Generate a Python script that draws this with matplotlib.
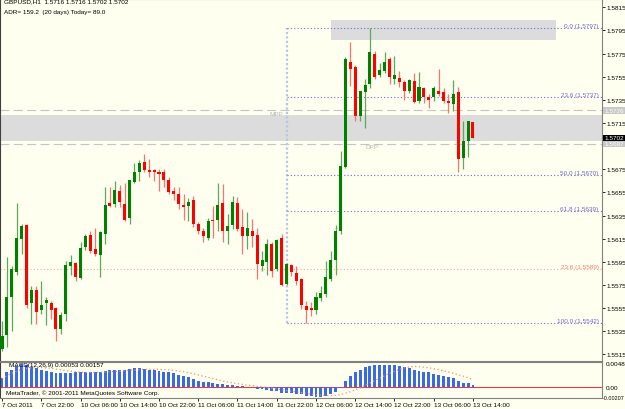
import matplotlib
matplotlib.use('Agg')
import matplotlib.pyplot as plt
import numpy as np

plt.rcParams['font.family'] = ['Liberation Sans', 'DejaVu Sans']

# H1 bars, 7 Oct 2011 14:00 .. 13 Oct 2011 14:00
opens = [1.5520, 1.5532, 1.5565, 1.5586, 1.5615, 1.5627, 1.5559, 1.5571, 1.5553, 1.5559,
         1.5559, 1.5555, 1.5537, 1.5550, 1.5591, 1.5594, 1.5581, 1.5608, 1.5618, 1.5606,
         1.5601, 1.5619, 1.5646, 1.5645, 1.5656, 1.5645, 1.5633, 1.5664, 1.5673, 1.5681,
         1.5674, 1.5674, 1.5673, 1.5673, 1.5666, 1.5656, 1.5654, 1.5644, 1.5643, 1.5648,
         1.5628, 1.5622, 1.5616, 1.5631, 1.5631, 1.5646, 1.5622, 1.5627, 1.5646, 1.5625,
         1.5617, 1.5622, 1.5618, 1.5591, 1.5595, 1.5610, 1.5589, 1.5616, 1.5576, 1.5592,
         1.5585, 1.5580, 1.5557, 1.5555, 1.5553, 1.5564, 1.5567, 1.5580, 1.5597, 1.5622,
         1.5677, 1.5768, 1.5763, 1.5721, 1.5742, 1.5749, 1.5775, 1.5756, 1.5760, 1.5770,
         1.5753, 1.5754, 1.5750, 1.5743, 1.5751, 1.5734, 1.5745, 1.5737, 1.5737, 1.5743,
         1.5742, 1.5734, 1.5731, 1.5742, 1.5685, 1.5699, 1.5716]
highs = [1.5544, 1.5599, 1.5591, 1.5646, 1.5628, 1.5628, 1.5574, 1.5574, 1.5578, 1.5565,
         1.5561, 1.5556, 1.5552, 1.5596, 1.5601, 1.5595, 1.5612, 1.5619, 1.5622, 1.5624,
         1.5622, 1.5660, 1.5660, 1.5665, 1.5661, 1.5663, 1.5666, 1.5680, 1.5683, 1.5688,
         1.5684, 1.5675, 1.5675, 1.5675, 1.5668, 1.5660, 1.5660, 1.5654, 1.5650, 1.5652,
         1.5629, 1.5624, 1.5633, 1.5643, 1.5663, 1.5662, 1.5636, 1.5652, 1.5651, 1.5641,
         1.5638, 1.5632, 1.5624, 1.5604, 1.5615, 1.5612, 1.5615, 1.5619, 1.5594, 1.5593,
         1.5591, 1.5581, 1.5561, 1.5560, 1.5569, 1.5574, 1.5596, 1.5604, 1.5627, 1.5691,
         1.5772, 1.5785, 1.5765, 1.5743, 1.5753, 1.5797, 1.5777, 1.5767, 1.5776, 1.5772,
         1.5773, 1.5760, 1.5752, 1.5753, 1.5758, 1.5759, 1.5746, 1.5740, 1.5747, 1.5762,
         1.5745, 1.5740, 1.5752, 1.5746, 1.5717, 1.5717, 1.5716]
lows = [1.5518, 1.5521, 1.5535, 1.5584, 1.5602, 1.5555, 1.5541, 1.5541, 1.5550, 1.5540,
        1.5546, 1.5527, 1.5533, 1.5544, 1.5584, 1.5578, 1.5580, 1.5605, 1.5603, 1.5600,
        1.5582, 1.5610, 1.5642, 1.5642, 1.5642, 1.5630, 1.5628, 1.5663, 1.5665, 1.5673,
        1.5668, 1.5665, 1.5656, 1.5660, 1.5654, 1.5648, 1.5641, 1.5631, 1.5630, 1.5625,
        1.5619, 1.5612, 1.5614, 1.5616, 1.5622, 1.5612, 1.5610, 1.5623, 1.5622, 1.5602,
        1.5606, 1.5608, 1.5580, 1.5587, 1.5584, 1.5582, 1.5587, 1.5574, 1.5575, 1.5583,
        1.5575, 1.5554, 1.5542, 1.5548, 1.5550, 1.5561, 1.5565, 1.5578, 1.5584, 1.5619,
        1.5676, 1.5747, 1.5717, 1.5717, 1.5711, 1.5745, 1.5753, 1.5755, 1.5758, 1.5749,
        1.5749, 1.5746, 1.5735, 1.5741, 1.5732, 1.5732, 1.5732, 1.5728, 1.5734, 1.5738,
        1.5732, 1.5724, 1.5725, 1.5673, 1.5675, 1.5686, 1.5702]
closes = [1.5531, 1.5565, 1.5589, 1.5616, 1.5626, 1.5558, 1.5571, 1.5552, 1.5558, 1.5562,
          1.5553, 1.5537, 1.5549, 1.5592, 1.5595, 1.5582, 1.5607, 1.5617, 1.5604, 1.5602,
          1.5621, 1.5644, 1.5643, 1.5657, 1.5647, 1.5631, 1.5666, 1.5673, 1.5680, 1.5674,
          1.5673, 1.5673, 1.5671, 1.5666, 1.5655, 1.5654, 1.5645, 1.5642, 1.5647, 1.5628,
          1.5622, 1.5617, 1.5630, 1.5630, 1.5644, 1.5622, 1.5626, 1.5647, 1.5623, 1.5617,
          1.5624, 1.5617, 1.5593, 1.5597, 1.5610, 1.5587, 1.5614, 1.5575, 1.5593, 1.5586,
          1.5578, 1.5558, 1.5553, 1.5553, 1.5565, 1.5568, 1.5582, 1.5597, 1.5622, 1.5678,
          1.5770, 1.5762, 1.5721, 1.5743, 1.5748, 1.5776, 1.5755, 1.5761, 1.5768, 1.5755,
          1.5756, 1.5750, 1.5743, 1.5752, 1.5733, 1.5746, 1.5737, 1.5735, 1.5745, 1.5740,
          1.5734, 1.5732, 1.5740, 1.5684, 1.5699, 1.5717, 1.5702]

# MACD(12,26,9): main (histogram) and signal, x 1e-4
macd_main = [18.5, 31, 36, 43, 48, 45, 41, 39, 36, 34,
             32, 29.5, 29, 29.5, 29.5, 31, 31, 31, 31, 31,
             31, 34, 35.5, 35.5, 35.5, 36.5, 38, 39, 39, 38,
             36.5, 35.5, 34, 32, 31, 29, 25.5, 22.5, 20.5, 17,
             13.5, 11.5, 10.5, 9, 7.5, 6, 5, 5, 3.5, 2,
             1.5, 0.3, -3, -4.5, -6, -7.5, -8.5, -11, -11, -12,
             -13, -14, -17, -18.5, -19, -19, -17, -14, -9, -2,
             13.5, 24, 32, 36, 41, 44.5, 46, 46.5, 46.5, 46,
             46, 43, 41, 39, 35.5, 34, 32, 31, 27.5, 25.5,
             22.5, 20.5, 19, 12.5, 9, 8, 5.3]
macd_signal = [18, 24, 29, 33, 37, 39, 40, 40.5, 40.5, 40,
               39, 37.5, 36, 34.5, 33, 32, 31, 30.5, 30.5, 30.5,
               31, 31.5, 32, 32.5, 33, 34, 35, 35.5, 36.5, 37,
               37, 37, 37, 36.5, 36, 35, 33.5, 32, 30, 28,
               25.5, 23, 20.5, 18, 15.5, 13, 11, 9, 7.5, 6,
               4.5, 3.5, 2, 0.8, -0.5, -2, -3.5, -5, -6.5, -8,
               -9.5, -11, -12.5, -14, -15, -16, -17, -17, -16.5, -15,
               -12, -9, -5, -1, 4, 9, 14, 19, 24, 29,
               33, 37, 40, 42, 43, 42.5, 41.5, 40, 38.5, 36.5,
               34, 31.5, 29, 26, 23, 19.5, 15.7]

time_ticks = [0, 8, 16, 24, 32, 40, 48, 56, 64, 72, 80, 88, 96]
time_labels = ['7 Oct 2011', '7 Oct 22:00', '10 Oct 06:00', '10 Oct 14:00', '10 Oct 22:00',
               '11 Oct 06:00', '11 Oct 14:00', '11 Oct 22:00', '12 Oct 06:00', '12 Oct 14:00',
               '12 Oct 22:00', '13 Oct 06:00', '13 Oct 14:00']
price_ticks = [1.5515, 1.5535, 1.5555, 1.5575, 1.5595, 1.5615, 1.5635, 1.5655, 1.5675,
               1.5715, 1.5735, 1.5755, 1.5775, 1.5795, 1.5815]

fib_start = 58
fib_levels = [0.0, 23.6, 50.0, 61.8, 100.0]
fib_prices = [1.5797, 1.5737, 1.5670, 1.5639, 1.5542]
fib2_level, fib2_price = 23.6, 1.5589
mpp, dpp = 1.5726, 1.5697
zone_lo, zone_hi = 1.5699, 1.5722
box_x0, box_x1, box_lo, box_hi = 67, 113, 1.5787, 1.5804

BG = '#FFFFF0'
W, H = 625, 410
FS = 4.6

fig = plt.figure(figsize=(6.25, 4.1), dpi=100, facecolor=BG)


def px_axes(x0, y0, x1, y1):
    return fig.add_axes([x0 / W, 1 - y1 / H, (x1 - x0) / W, (y1 - y0) / H])


ax = px_axes(0, 0, 602, 362)
ax2 = px_axes(0, 363, 602, 399)
for a in (ax, ax2):
    a.set_facecolor(BG)
    a.set_xlim(-0.41, 122.3)
    for s in a.spines.values():
        s.set_color('#808080')
        s.set_linewidth(0.8)
    a.spines['left'].set_color('#404040')

ax.set_ylim(1.55093, 1.58221)

o = np.array(opens)
c = np.array(closes)
hi = np.array(highs)
lo = np.array(lows)
x = np.arange(len(o))
up = c >= o

# zones and levels
ax.axhspan(zone_lo, zone_hi, color='#DCDCDC', lw=0, zorder=0)
ax.fill_between([box_x0, box_x1], box_lo, box_hi, color='#DCDCDC', lw=0, zorder=0)
for lvl in (mpp, dpp):
    ax.axhline(lvl, color='#C4C4C4', lw=0.8, ls=(0, (8, 4)), zorder=1)
ax.text(57.3, mpp - 0.00005, 'MPP', fontsize=FS, color='#B8B8B8', ha='right', va='top')
ax.text(75.5, dpp - 0.00005, 'DPP', fontsize=FS, color='#B8B8B8', ha='center', va='top')

ax.axhline(fib2_price, color='#F4A8A0', lw=0.8, ls=(0, (1, 2)), zorder=1)
ax.text(121.6, fib2_price + 0.00002, f'{fib2_level:.1f} ({fib2_price:.4f})',
        fontsize=FS, color='#F08070', ha='right', va='bottom')

ax.vlines(fib_start, fib_prices[-1], fib_prices[0], color='#B4C8E4', lw=1.6,
          ls=(0, (1, 1)), zorder=1)
for lv, pr in zip(fib_levels, fib_prices):
    ax.hlines(pr, fib_start, 122.3, color='#6B6BC8', lw=0.8, ls=(0, (1, 2)), zorder=1)
    ax.text(121.6, pr + 0.00002, f'{lv:.1f} ({pr:.4f})', fontsize=FS,
            color='#6B6BC8', ha='right', va='bottom')

# candles
wick_col = np.where(up, '#5AAA5A', '#FF7070')
body_col = np.where(up, '#008000', '#FF0000')
ax.vlines(x, lo, hi, colors=wick_col, lw=0.9, zorder=2)
body_h = np.maximum(np.abs(c - o), 0.00011)
ax.bar(x, body_h, bottom=np.minimum(o, c), width=0.62, color=body_col, lw=0, zorder=3)

# price axis
ax.yaxis.tick_right()
ax.set_yticks(price_ticks)
ax.set_yticklabels([f'{p:.4f}' for p in price_ticks])
ax.tick_params(axis='y', length=2, width=0.6, pad=1, labelsize=FS, colors='black')
ax.set_xticks([])

boxes = [(mpp, '#C8C8C8', '#FFFFFF'), (dpp, '#C8C8C8', '#FFFFFF'), (closes[-1], '#000000', '#FFFFFF')]
for val, fc, tc in boxes:
    ax.text(1.004, val, f'{val:.4f}', transform=ax.get_yaxis_transform(), fontsize=FS,
            color=tc, ha='left', va='center',
            bbox=dict(boxstyle='square,pad=0.15', fc=fc, ec='none'), clip_on=False)

ax.text(0.5, 1.5822 - 0.00013, f'GBPUSD,H1  {opens[-1]:.4f} {highs[-1]:.4f} {lows[-1]:.4f} {closes[-1]:.4f}',
        fontsize=FS, color='black', ha='left', va='center')
ax.text(0.5, 1.5822 - 0.00091 - 0.00013, 'ADR= 159.2  (20 days) Today= 89.0',
        fontsize=FS, color='black', ha='left', va='center')

# MACD pane
m = np.array(macd_main) * 1e-4
sg = np.array(macd_signal) * 1e-4
ax2.set_ylim(-0.0022, 0.00521)
ax2.bar(x, m, width=0.6, color='#3A6AE8', lw=0, zorder=2)
ax2.plot(x, sg, color='#F09070', lw=0.9, ls=(0, (1, 2)), zorder=3)
ax2.axhline(0, color='#E04040', lw=0.8, zorder=1)
ax2.yaxis.tick_right()
ax2.set_yticks([])
ax2.text(1.006, 0.0048, '0.0048', transform=ax2.get_yaxis_transform(), fontsize=FS,
         ha='left', va='center', clip_on=False)
ax2.text(1.006, 0.0, '0.00', transform=ax2.get_yaxis_transform(), fontsize=FS,
         ha='left', va='center', clip_on=False)
ax2.text(1.001, -0.00207, '-0.00207', transform=ax2.get_yaxis_transform(), fontsize=3.9,
         ha='left', va='center', clip_on=False)
ax2.text(1.5, 0.0047, f'MACD(12,26,9) {m[-1]:.5f} {sg[-1]:.5f}', fontsize=FS,
         ha='left', va='center')
ax2.text(0.8, -0.00105, 'MetaTrader, \u00a9 2001-2011 MetaQuotes Software Corp.',
         fontsize=FS, ha='left', va='center')
ax2.set_xticks(time_ticks)
ax2.set_xticklabels(time_labels, ha='left')
ax2.tick_params(axis='x', length=2, width=0.6, pad=1, labelsize=FS)

fig.savefig('out.png', dpi=100, facecolor=BG)
